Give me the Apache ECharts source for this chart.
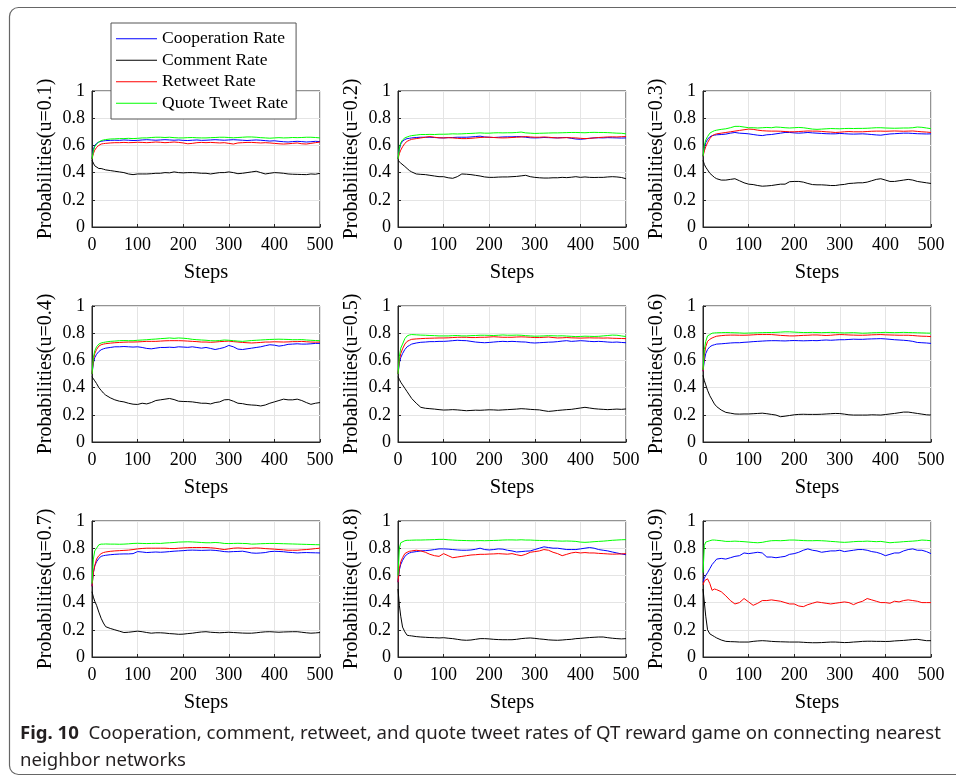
<!DOCTYPE html>
<html><head><meta charset="utf-8">
<script src="https://cdn.jsdelivr.net/npm/echarts@6/dist/echarts.min.js"></script>
<style>html,body{margin:0;padding:0;background:#fff}#c{width:956px;height:782px}</style>
</head><body><div id="c"></div>
<script>
// sample steps (x values)
const steps = [0,3,6,10,15,20,25,30,40,
 50,60,70,80,90,100,110,120,130,140,
 150,160,170,180,190,200,210,220,230,240,
 250,260,270,280,290,300,310,320,330,340,
 350,360,370,380,390,400,410,420,430,440,
 450,460,470,480,490,500];
const xTicks = [0,100,200,300,400,500];
const yTicks = [0,0.2,0.4,0.6,0.8,1];
const seriesNames = ['Cooperation Rate','Comment Rate','Retweet Rate','Quote Tweet Rate'];
const uValues = ['0.1','0.2','0.3','0.4','0.5','0.6','0.7','0.8','0.9'];

// u=0.1
const coop1 = [0.50,0.57,0.60,0.615,0.625,0.63,0.633,0.635,0.637, 0.638,0.637,0.64,0.638,0.636,0.637,0.64,0.642,0.64,0.638, 0.64,0.642,0.64,0.638,0.64,0.637,0.636,0.638,0.64,0.637, 0.638,0.64,0.642,0.64,0.638,0.64,0.642,0.64,0.638,0.636, 0.638,0.64,0.638,0.635,0.632,0.634,0.63,0.627,0.625,0.628, 0.63,0.628,0.625,0.627,0.63,0.628];
const comm1 = [0.49,0.47,0.45,0.44,0.43,0.43,0.425,0.42,0.415, 0.41,0.405,0.40,0.39,0.385,0.39,0.39,0.39,0.392,0.395, 0.395,0.40,0.398,0.405,0.40,0.398,0.40,0.40,0.398,0.395, 0.395,0.39,0.395,0.40,0.40,0.405,0.40,0.392,0.395,0.40, 0.405,0.41,0.40,0.39,0.395,0.40,0.398,0.395,0.39,0.388, 0.387,0.386,0.385,0.39,0.388,0.395];
const retw1 = [0.50,0.54,0.565,0.585,0.60,0.61,0.613,0.615,0.618, 0.62,0.62,0.622,0.62,0.621,0.623,0.622,0.62,0.622,0.625, 0.623,0.62,0.622,0.625,0.622,0.618,0.612,0.615,0.62,0.622, 0.62,0.622,0.62,0.618,0.62,0.615,0.61,0.618,0.62,0.622, 0.622,0.62,0.618,0.62,0.618,0.615,0.612,0.61,0.612,0.615, 0.618,0.612,0.61,0.615,0.62,0.625];
const quote1 = [0.50,0.56,0.59,0.61,0.625,0.635,0.64,0.643,0.647, 0.648,0.65,0.65,0.652,0.65,0.652,0.655,0.655,0.658,0.66, 0.66,0.658,0.66,0.657,0.655,0.655,0.657,0.658,0.656,0.655, 0.655,0.657,0.658,0.66,0.66,0.658,0.656,0.658,0.66,0.662, 0.662,0.66,0.657,0.655,0.653,0.655,0.657,0.655,0.656,0.658, 0.657,0.658,0.66,0.66,0.658,0.655];
// u=0.2
const coop2 = [0.50,0.57,0.61,0.63,0.643,0.65,0.652,0.655,0.658, 0.66,0.66,0.66,0.658,0.656,0.655,0.657,0.658,0.66,0.66, 0.66,0.662,0.665,0.668,0.662,0.66,0.658,0.66,0.662,0.663, 0.663,0.665,0.664,0.66,0.656,0.655,0.656,0.658,0.657,0.656, 0.655,0.657,0.658,0.652,0.647,0.645,0.648,0.652,0.655,0.656, 0.655,0.657,0.656,0.655,0.654,0.655];
const comm2 = [0.49,0.48,0.47,0.46,0.445,0.43,0.415,0.405,0.39, 0.387,0.385,0.38,0.375,0.37,0.37,0.362,0.358,0.37,0.39, 0.388,0.385,0.38,0.375,0.368,0.365,0.365,0.367,0.368,0.368, 0.37,0.372,0.376,0.38,0.37,0.365,0.362,0.36,0.36,0.362, 0.362,0.365,0.363,0.366,0.37,0.365,0.368,0.365,0.364,0.365, 0.365,0.368,0.37,0.368,0.364,0.355];
const retw2 = [0.50,0.54,0.565,0.59,0.615,0.63,0.638,0.645,0.65, 0.655,0.66,0.665,0.66,0.656,0.655,0.657,0.655,0.652,0.65, 0.65,0.652,0.655,0.658,0.66,0.66,0.658,0.656,0.655,0.656, 0.658,0.66,0.662,0.665,0.662,0.66,0.66,0.662,0.66,0.657, 0.655,0.656,0.657,0.656,0.655,0.652,0.65,0.652,0.655,0.658, 0.66,0.662,0.663,0.662,0.664,0.665];
const quote2 = [0.50,0.58,0.62,0.64,0.655,0.662,0.668,0.672,0.676, 0.68,0.68,0.681,0.68,0.682,0.682,0.683,0.685,0.684,0.685, 0.687,0.688,0.69,0.692,0.69,0.69,0.692,0.693,0.692,0.693, 0.693,0.695,0.698,0.692,0.69,0.688,0.689,0.69,0.691,0.692, 0.692,0.693,0.694,0.695,0.695,0.694,0.693,0.695,0.696,0.695, 0.695,0.694,0.692,0.69,0.689,0.685];
// u=0.3
const coop3 = [0.52,0.58,0.62,0.645,0.663,0.672,0.675,0.678,0.68, 0.683,0.69,0.695,0.69,0.688,0.685,0.68,0.675,0.672,0.678, 0.68,0.685,0.69,0.695,0.695,0.692,0.69,0.692,0.695,0.692, 0.69,0.688,0.686,0.685,0.685,0.688,0.686,0.684,0.683,0.684, 0.685,0.683,0.68,0.677,0.675,0.68,0.684,0.686,0.688,0.69, 0.69,0.688,0.686,0.685,0.684,0.685];
const comm3 = [0.49,0.46,0.44,0.42,0.395,0.38,0.365,0.355,0.345, 0.345,0.35,0.355,0.34,0.325,0.315,0.312,0.305,0.30,0.302, 0.305,0.31,0.315,0.315,0.333,0.335,0.335,0.33,0.32,0.312, 0.31,0.31,0.308,0.305,0.305,0.31,0.313,0.32,0.322,0.325, 0.325,0.33,0.34,0.35,0.355,0.345,0.335,0.335,0.34,0.345, 0.35,0.345,0.335,0.33,0.325,0.32];
const retw3 = [0.52,0.56,0.59,0.62,0.65,0.67,0.68,0.685,0.69, 0.695,0.70,0.705,0.71,0.715,0.72,0.718,0.712,0.708,0.706, 0.705,0.705,0.704,0.702,0.70,0.70,0.702,0.704,0.706,0.705, 0.705,0.703,0.70,0.698,0.695,0.697,0.70,0.702,0.70,0.70, 0.70,0.702,0.704,0.705,0.705,0.704,0.705,0.706,0.705,0.704, 0.705,0.706,0.703,0.70,0.698,0.695];
const quote3 = [0.52,0.60,0.64,0.665,0.69,0.70,0.708,0.712,0.718, 0.722,0.73,0.74,0.74,0.735,0.73,0.73,0.728,0.73,0.732, 0.73,0.735,0.733,0.73,0.728,0.73,0.732,0.73,0.725,0.72, 0.718,0.72,0.722,0.724,0.723,0.722,0.724,0.725,0.724,0.725, 0.725,0.726,0.728,0.73,0.73,0.728,0.727,0.726,0.727,0.728, 0.728,0.73,0.735,0.733,0.728,0.723];
// u=0.4
const coop4 = [0.50,0.58,0.62,0.645,0.665,0.678,0.685,0.69,0.695, 0.70,0.70,0.702,0.70,0.698,0.70,0.695,0.688,0.685,0.69, 0.695,0.695,0.697,0.695,0.70,0.698,0.696,0.70,0.695,0.69, 0.695,0.688,0.68,0.687,0.695,0.71,0.70,0.683,0.68,0.685, 0.69,0.695,0.70,0.708,0.715,0.712,0.705,0.71,0.718,0.72, 0.722,0.72,0.72,0.722,0.725,0.725];
const comm4 = [0.48,0.465,0.45,0.43,0.40,0.38,0.36,0.345,0.325, 0.31,0.30,0.295,0.285,0.278,0.276,0.285,0.28,0.29,0.305, 0.31,0.315,0.32,0.312,0.30,0.298,0.297,0.295,0.29,0.285, 0.285,0.28,0.29,0.295,0.31,0.312,0.30,0.285,0.282,0.275, 0.272,0.27,0.265,0.272,0.285,0.295,0.305,0.315,0.31,0.31, 0.315,0.305,0.29,0.277,0.285,0.29];
const retw4 = [0.50,0.60,0.65,0.68,0.705,0.715,0.72,0.723,0.727, 0.73,0.732,0.734,0.735,0.735,0.736,0.738,0.74,0.74,0.74, 0.742,0.744,0.745,0.745,0.745,0.744,0.742,0.74,0.738,0.735, 0.735,0.733,0.735,0.738,0.74,0.742,0.738,0.735,0.732,0.73, 0.728,0.73,0.732,0.735,0.735,0.737,0.736,0.735,0.736,0.738, 0.738,0.74,0.737,0.735,0.734,0.735];
const quote4 = [0.50,0.62,0.67,0.70,0.72,0.728,0.732,0.735,0.74, 0.742,0.745,0.746,0.745,0.745,0.748,0.75,0.752,0.755,0.757, 0.76,0.762,0.765,0.762,0.765,0.763,0.76,0.755,0.752,0.75, 0.748,0.745,0.744,0.746,0.75,0.748,0.745,0.742,0.74,0.743, 0.746,0.748,0.75,0.752,0.754,0.755,0.756,0.755,0.754,0.752, 0.752,0.753,0.75,0.748,0.746,0.745];
// u=0.5
const coop5 = [0.50,0.58,0.62,0.65,0.68,0.70,0.71,0.72,0.728, 0.733,0.735,0.738,0.738,0.74,0.74,0.742,0.745,0.748,0.746, 0.745,0.74,0.735,0.732,0.73,0.732,0.735,0.738,0.74,0.738, 0.74,0.738,0.736,0.735,0.73,0.728,0.73,0.732,0.734,0.735, 0.738,0.742,0.745,0.74,0.742,0.745,0.743,0.74,0.738,0.74, 0.738,0.735,0.733,0.735,0.732,0.73];
const comm5 = [0.48,0.46,0.44,0.42,0.395,0.37,0.345,0.32,0.285, 0.255,0.248,0.245,0.242,0.238,0.235,0.236,0.238,0.236,0.233, 0.23,0.232,0.234,0.233,0.235,0.237,0.236,0.234,0.236,0.238, 0.24,0.242,0.245,0.243,0.24,0.238,0.236,0.23,0.225,0.228, 0.232,0.235,0.238,0.24,0.245,0.25,0.255,0.25,0.245,0.242, 0.24,0.238,0.24,0.242,0.24,0.243];
const retw5 = [0.50,0.60,0.65,0.685,0.72,0.74,0.748,0.755,0.758, 0.76,0.762,0.763,0.764,0.765,0.765,0.766,0.768,0.77,0.77, 0.77,0.768,0.768,0.77,0.77,0.772,0.774,0.772,0.77,0.77, 0.77,0.772,0.773,0.772,0.77,0.768,0.768,0.77,0.772,0.768, 0.765,0.766,0.768,0.766,0.765,0.764,0.765,0.766,0.765,0.765, 0.764,0.765,0.763,0.762,0.761,0.76];
const quote5 = [0.50,0.63,0.69,0.72,0.76,0.78,0.787,0.79,0.788, 0.786,0.785,0.783,0.782,0.78,0.78,0.78,0.782,0.783,0.78, 0.78,0.782,0.783,0.785,0.785,0.784,0.783,0.785,0.787,0.785, 0.785,0.786,0.785,0.782,0.78,0.778,0.779,0.78,0.782,0.781, 0.78,0.781,0.779,0.777,0.775,0.776,0.778,0.777,0.776,0.777, 0.78,0.783,0.786,0.785,0.78,0.775];
// u=0.6
const coop6 = [0.52,0.60,0.65,0.68,0.70,0.71,0.715,0.72,0.722, 0.725,0.728,0.73,0.73,0.733,0.735,0.738,0.74,0.742,0.744, 0.745,0.745,0.744,0.743,0.745,0.746,0.745,0.744,0.745,0.746, 0.745,0.748,0.75,0.748,0.75,0.752,0.752,0.754,0.756,0.755, 0.755,0.757,0.758,0.759,0.76,0.758,0.755,0.752,0.75,0.748, 0.745,0.74,0.732,0.73,0.728,0.725];
const comm6 = [0.49,0.45,0.42,0.38,0.34,0.31,0.28,0.26,0.235, 0.218,0.212,0.206,0.205,0.206,0.206,0.208,0.21,0.212,0.208, 0.203,0.198,0.186,0.19,0.195,0.20,0.203,0.204,0.203,0.203, 0.203,0.204,0.206,0.208,0.21,0.209,0.205,0.20,0.198,0.198, 0.198,0.198,0.20,0.199,0.198,0.202,0.206,0.21,0.215,0.22, 0.22,0.215,0.21,0.205,0.20,0.198];
const retw6 = [0.52,0.64,0.70,0.74,0.755,0.765,0.772,0.778,0.782, 0.785,0.786,0.786,0.785,0.785,0.786,0.788,0.79,0.79,0.79, 0.79,0.787,0.784,0.782,0.78,0.78,0.782,0.784,0.785,0.787, 0.787,0.785,0.783,0.785,0.788,0.79,0.789,0.787,0.786,0.785, 0.785,0.786,0.788,0.789,0.79,0.788,0.787,0.786,0.785,0.785, 0.785,0.783,0.78,0.778,0.777,0.775];
const quote6 = [0.53,0.68,0.74,0.78,0.79,0.80,0.802,0.803,0.804, 0.805,0.804,0.803,0.802,0.80,0.801,0.802,0.803,0.804,0.805, 0.805,0.806,0.808,0.81,0.81,0.808,0.806,0.805,0.805,0.806, 0.805,0.804,0.805,0.806,0.805,0.803,0.802,0.803,0.804,0.802, 0.80,0.801,0.803,0.804,0.805,0.806,0.805,0.804,0.805,0.806, 0.805,0.804,0.803,0.802,0.801,0.80];
// u=0.7
const coop7 = [0.52,0.62,0.67,0.70,0.725,0.74,0.745,0.748,0.752, 0.755,0.757,0.758,0.758,0.76,0.775,0.772,0.768,0.77,0.772, 0.77,0.772,0.775,0.778,0.78,0.782,0.785,0.786,0.785,0.784, 0.785,0.786,0.784,0.78,0.775,0.773,0.775,0.776,0.778,0.772, 0.765,0.763,0.765,0.768,0.775,0.777,0.776,0.774,0.77,0.768, 0.765,0.767,0.768,0.767,0.766,0.765];
const comm7 = [0.48,0.44,0.41,0.38,0.33,0.285,0.25,0.223,0.21, 0.20,0.19,0.18,0.182,0.186,0.19,0.186,0.18,0.175,0.178, 0.178,0.176,0.172,0.17,0.167,0.168,0.172,0.175,0.18,0.184, 0.186,0.182,0.18,0.178,0.18,0.182,0.18,0.178,0.176,0.175, 0.175,0.178,0.182,0.185,0.186,0.184,0.182,0.184,0.185,0.186, 0.186,0.182,0.178,0.175,0.177,0.18];
const retw7 = [0.52,0.62,0.67,0.72,0.745,0.76,0.768,0.772,0.777, 0.78,0.782,0.784,0.786,0.79,0.795,0.798,0.80,0.80,0.80, 0.80,0.80,0.798,0.797,0.80,0.802,0.804,0.805,0.805,0.805, 0.805,0.803,0.80,0.795,0.79,0.795,0.80,0.802,0.80,0.798, 0.80,0.802,0.80,0.797,0.795,0.793,0.79,0.788,0.785,0.785, 0.785,0.788,0.79,0.793,0.797,0.80];
const quote7 = [0.54,0.72,0.78,0.80,0.825,0.83,0.83,0.831,0.83, 0.83,0.829,0.83,0.832,0.835,0.836,0.835,0.834,0.835,0.836, 0.835,0.838,0.84,0.842,0.845,0.846,0.847,0.846,0.844,0.842, 0.84,0.84,0.842,0.84,0.835,0.834,0.835,0.836,0.835,0.834, 0.83,0.831,0.833,0.834,0.835,0.835,0.834,0.833,0.832,0.831, 0.83,0.829,0.828,0.827,0.826,0.825];
// u=0.8
const coop8 = [0.55,0.64,0.68,0.71,0.74,0.755,0.765,0.77,0.775, 0.78,0.782,0.785,0.79,0.795,0.795,0.793,0.79,0.787,0.785, 0.785,0.787,0.792,0.80,0.79,0.787,0.79,0.795,0.793,0.785, 0.78,0.772,0.775,0.778,0.78,0.79,0.80,0.81,0.805,0.80, 0.80,0.795,0.79,0.79,0.79,0.795,0.80,0.805,0.80,0.79, 0.785,0.78,0.772,0.765,0.758,0.752];
const comm8 = [0.50,0.38,0.30,0.22,0.185,0.16,0.157,0.155,0.15, 0.147,0.145,0.143,0.142,0.14,0.142,0.138,0.135,0.13,0.125, 0.123,0.125,0.13,0.135,0.135,0.133,0.13,0.128,0.127,0.127, 0.127,0.13,0.135,0.138,0.14,0.137,0.133,0.13,0.126,0.124, 0.123,0.125,0.128,0.13,0.135,0.137,0.14,0.143,0.145,0.147, 0.147,0.142,0.138,0.135,0.133,0.135];
const retw8 = [0.55,0.65,0.70,0.73,0.76,0.77,0.777,0.78,0.785, 0.78,0.77,0.755,0.745,0.74,0.76,0.745,0.73,0.735,0.74, 0.745,0.75,0.752,0.755,0.755,0.757,0.758,0.76,0.758,0.756, 0.76,0.752,0.745,0.755,0.77,0.775,0.78,0.79,0.785,0.77, 0.76,0.745,0.755,0.765,0.77,0.765,0.768,0.765,0.765,0.762, 0.76,0.758,0.756,0.757,0.758,0.76];
const quote8 = [0.60,0.80,0.84,0.85,0.855,0.858,0.858,0.859,0.86, 0.86,0.861,0.862,0.863,0.865,0.865,0.862,0.86,0.858,0.857, 0.856,0.855,0.855,0.856,0.855,0.856,0.857,0.858,0.86,0.861, 0.861,0.86,0.862,0.86,0.86,0.858,0.857,0.856,0.856,0.855, 0.853,0.852,0.853,0.852,0.85,0.845,0.843,0.845,0.848,0.85, 0.852,0.855,0.858,0.86,0.862,0.863];
// u=0.9
const coop9 = [0.55,0.58,0.60,0.62,0.65,0.68,0.70,0.72,0.725, 0.72,0.73,0.74,0.745,0.765,0.76,0.765,0.77,0.765,0.735, 0.735,0.73,0.735,0.74,0.755,0.76,0.77,0.785,0.795,0.785, 0.78,0.77,0.775,0.78,0.78,0.785,0.775,0.78,0.785,0.79, 0.79,0.785,0.775,0.77,0.76,0.745,0.755,0.765,0.765,0.78, 0.79,0.795,0.785,0.785,0.775,0.76];
const comm9 = [0.50,0.40,0.30,0.20,0.17,0.16,0.15,0.14,0.125, 0.115,0.113,0.112,0.11,0.11,0.11,0.115,0.118,0.12,0.118, 0.115,0.113,0.112,0.111,0.11,0.11,0.11,0.108,0.106,0.105, 0.105,0.106,0.108,0.11,0.11,0.108,0.106,0.107,0.11,0.112, 0.115,0.116,0.116,0.115,0.115,0.114,0.115,0.118,0.12,0.122, 0.125,0.128,0.13,0.125,0.12,0.12];
const retw9 = [0.53,0.56,0.57,0.575,0.54,0.49,0.50,0.495,0.48, 0.45,0.415,0.39,0.40,0.43,0.405,0.38,0.395,0.415,0.415, 0.42,0.415,0.41,0.40,0.39,0.39,0.375,0.37,0.385,0.395, 0.405,0.40,0.395,0.39,0.395,0.40,0.405,0.40,0.385,0.40, 0.41,0.43,0.42,0.41,0.40,0.40,0.395,0.41,0.405,0.415, 0.42,0.415,0.41,0.40,0.40,0.40];
const quote9 = [0.62,0.82,0.845,0.85,0.855,0.86,0.86,0.858,0.855, 0.85,0.85,0.852,0.85,0.848,0.845,0.842,0.84,0.843,0.85, 0.855,0.856,0.855,0.857,0.86,0.86,0.858,0.856,0.855,0.855, 0.856,0.855,0.853,0.85,0.848,0.845,0.843,0.845,0.848,0.85, 0.85,0.852,0.85,0.848,0.85,0.845,0.84,0.843,0.845,0.848, 0.85,0.852,0.855,0.86,0.858,0.855];

const panels = [
  [coop1,comm1,retw1,quote1],[coop2,comm2,retw2,quote2],[coop3,comm3,retw3,quote3],
  [coop4,comm4,retw4,quote4],[coop5,comm5,retw5,quote5],[coop6,comm6,retw6,quote6],
  [coop7,comm7,retw7,quote7],[coop8,comm8,retw8,quote8],[coop9,comm9,retw9,quote9]
];
const colors = ['#0000ff','#000000','#ff0000','#00ff00'];

const colLeft = [92, 398, 703];
const rowTop = [91, 306, 521];
const serif = 'Liberation Serif';
const nameStyle = {fontFamily: serif, fontWeight: 'normal', color: '#000',
  textBorderWidth: 0, textBorderColor: 'transparent', textShadowBlur: 0, textShadowColor: 'transparent'};

const grids = [], xAxes = [], yAxes = [], series = [];
panels.forEach((p, k) => {
  const r = Math.floor(k / 3), c = k % 3;
  grids.push({left: colLeft[c], top: rowTop[r], width: 228, height: 136,
    show: true, borderColor: '#262626', borderWidth: 1, backgroundColor: '#fff'});
  xAxes.push({type: 'value', gridIndex: k, min: 0, max: 500, interval: 100,
    name: 'Steps', nameLocation: 'middle', nameGap: 35,
    nameTextStyle: Object.assign({fontSize: 20.5}, nameStyle),
    axisLine: {show: true, onZero: false, lineStyle: {color: '#262626', width: 1}},
    axisTick: {show: true, inside: true, length: 3, lineStyle: {color: '#262626'}},
    axisLabel: {fontFamily: serif, fontSize: 18, color: '#000', margin: 9,
      customValues: xTicks},
    splitLine: {show: true, lineStyle: {color: '#e4e4e4', width: 1}}
  });
  yAxes.push({type: 'value', gridIndex: k, min: 0, max: 1, interval: 0.2,
    name: 'Probabilities(u=' + uValues[k] + ')', nameLocation: 'middle', nameGap: 36,
    nameTextStyle: Object.assign({fontSize: 20}, nameStyle),
    axisLine: {show: true, lineStyle: {color: '#262626', width: 1}},
    axisTick: {show: true, inside: true, length: 3, lineStyle: {color: '#262626'}},
    axisLabel: {fontFamily: serif, fontSize: 18, color: '#000', margin: 7},
    splitLine: {show: true, lineStyle: {color: '#e4e4e4', width: 1}}
  });
  p.forEach((arr, j) => {
    series.push({type: 'line', name: seriesNames[j], xAxisIndex: k, yAxisIndex: k,
      data: steps.map((s, i) => [s, arr[i]]), symbol: 'none', silent: true,
      lineStyle: {color: colors[j], width: 1}, itemStyle: {color: colors[j]},
      animation: false});
  });
});

const chart = echarts.init(document.getElementById('c'), null, {renderer: 'canvas'});
chart.setOption({
  backgroundColor: '#fff',
  animation: false,
  grid: grids, xAxis: xAxes, yAxis: yAxes, series: series,
  legend: {show: true, orient: 'vertical', left: 111, top: 23, z: 10,
    data: seriesNames, icon: 'rect', itemWidth: 41, itemHeight: 1, itemGap: 0,
    padding: [5, 8, 5, 5], backgroundColor: '#fff', borderColor: '#555', borderWidth: 1,
    borderRadius: 0, selectedMode: false,
    textStyle: {fontFamily: serif, fontSize: 17.5, fontWeight: 'normal', color: '#000', lineHeight: 21.5}},
  graphic: [
    {type: 'rect', z: -1, silent: true,
      shape: {x: 9.5, y: 7.5, width: 980, height: 767, r: 9},
      style: {fill: 'none', stroke: '#666', lineWidth: 1.2}},
    {type: 'text', left: 20, top: 724, silent: true,
      style: {text: '{b|Fig. 10}  Cooperation, comment, retweet, and quote tweet rates of QT reward game on connecting nearest',
        font: '18.6px "Noto Sans"', fill: '#231f20',
        rich: {b: {fontWeight: 'bold', fontSize: 18.6, fontFamily: 'Noto Sans', fill: '#231f20'}}}},
    {type: 'text', left: 20, top: 751, silent: true,
      style: {text: 'neighbor networks', font: '18.6px "Noto Sans"', fill: '#231f20'}}
  ]
});
</script></body></html>
